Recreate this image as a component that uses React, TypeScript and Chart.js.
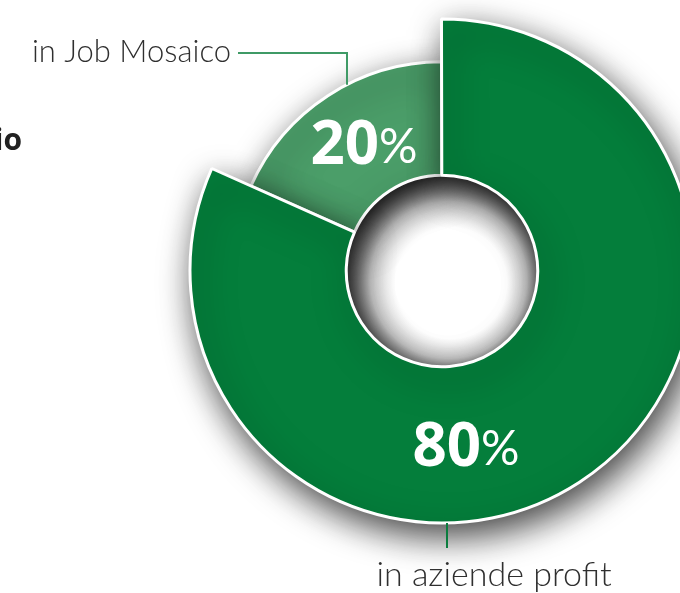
import React, { useEffect, useRef } from "react";
import { Chart, registerables } from "chart.js";

Chart.register(...registerables);

// ---- data ----
const categories = ["in Job Mosaico", "in aziende profit"];
const shares = [18.3, 81.7]; // arc sizes as drawn in the picture
const shareLabels = ["20", "80"];
const colors = ["#4b9e69", "#047e3b"];
const headingFragment = "io";

const CW = 680;
const CH = 593;
const CX = 442;
const CY = 271;
const OUTER = 252;
const SMALL_RATIO = 0.83;

const donutPlugin = {
  id: "donutDecor",
  afterDatasetsUpdate(chart: any) {
    const meta = chart.getDatasetMeta(0);
    const a0 = meta.data[0] as any;
    if (a0) a0.outerRadius = a0.outerRadius * SMALL_RATIO;
  },
  beforeDatasetsDraw(chart: any) {
    const ctx = chart.ctx;
    const meta = chart.getDatasetMeta(0);
    const a1 = meta.data[1] as any;
    // shading inside the hole
    ctx.save();
    const ir = a1.innerRadius;
    const g = ctx.createRadialGradient(a1.x + 12, a1.y + 16, ir * 0.3, a1.x + 4, a1.y + 6, ir + 4);
    g.addColorStop(0, "#ffffff");
    g.addColorStop(0.38, "#ffffff");
    g.addColorStop(0.7, "#d2d2d2");
    g.addColorStop(1, "#5e5e5e");
    ctx.fillStyle = g;
    ctx.beginPath();
    ctx.arc(a1.x, a1.y, ir + 2, 0, Math.PI * 2);
    ctx.fill();
    ctx.restore();

    ctx.save();
    ctx.shadowColor = "rgba(0,0,0,0.75)";
    ctx.shadowBlur = 34;
    ctx.shadowOffsetX = 6;
    ctx.shadowOffsetY = 12;
  },
  afterDatasetsDraw(chart: any) {
    const ctx = chart.ctx;
    ctx.restore();
    const meta = chart.getDatasetMeta(0);
    const a0 = meta.data[0] as any;
    const a1 = meta.data[1] as any;
    const cx = a1.x;
    const cy = a1.y;

    // percent labels
    const numFont = "bold 60px 'Open Sans'";
    const pctFont = "normal 48px Lato";
    const drawPct = (num: string, x: number, yBase: number) => {
      ctx.save();
      ctx.fillStyle = "#ffffff";
      ctx.textBaseline = "alphabetic";
      ctx.textAlign = "left";
      ctx.font = numFont;
      const w1 = ctx.measureText(num).width;
      ctx.font = pctFont;
      const w2 = ctx.measureText("%").width;
      const start = x - (w1 + w2) / 2;
      ctx.font = numFont;
      ctx.fillText(num, start, yBase);
      ctx.font = pctFont;
      ctx.fillText("%", start + w1, yBase - 1);
      ctx.restore();
    };
    drawPct(shareLabels[0], cx - 78, cy - 107);
    drawPct(shareLabels[1], cx + 24, cy + 195);

    // leader line: Job Mosaico
    ctx.save();
    ctx.strokeStyle = "#3f9a66";
    ctx.lineWidth = 2;
    const lx = 347;
    const r0 = a0.outerRadius;
    const ly = cy - Math.sqrt(r0 * r0 - (lx - cx) * (lx - cx));
    ctx.beginPath();
    ctx.moveTo(238, 53);
    ctx.lineTo(lx, 53);
    ctx.lineTo(lx, ly);
    ctx.stroke();

    // leader line: aziende profit
    ctx.strokeStyle = "#0b7d3e";
    const bx = 447;
    const r1 = a1.outerRadius;
    const by = cy + Math.sqrt(r1 * r1 - (bx - cx) * (bx - cx));
    ctx.beginPath();
    ctx.moveTo(bx, by);
    ctx.lineTo(bx, 548);
    ctx.stroke();

    // category labels
    ctx.fillStyle = "#2f2f2f";
    ctx.font = "300 31px Lato";
    ctx.textAlign = "right";
    ctx.textBaseline = "alphabetic";
    ctx.fillText(categories[0], 231, 62);
    ctx.textAlign = "center";
    ctx.font = "300 34px Lato";
    ctx.fillText(categories[1], 494, 586);

    // heading fragment
    ctx.fillStyle = "#222222";
    ctx.font = "bold 30px 'Open Sans'";
    ctx.textAlign = "right";
    ctx.fillText(headingFragment, 22, 150);
    ctx.restore();
  },
};

export default function App() {
  const ref = useRef<HTMLCanvasElement | null>(null);
  useEffect(() => {
    if (!ref.current) return;
    const chart = new Chart(ref.current, {
      type: "doughnut",
      data: {
        labels: categories,
        datasets: [
          {
            data: shares,
            backgroundColor: colors,
            borderColor: "#ffffff",
            borderWidth: 3,
            radius: OUTER,
            clip: false as any,
          } as any,
        ],
      },
      options: {
        responsive: false,
        animation: false,
        events: [],
        cutout: "38%",
        rotation: -66,
        layout: {
          padding: { left: CX * 2 - CW, top: 0, right: 0, bottom: CH - CY * 2 },
        },
        plugins: {
          legend: { display: false },
          tooltip: { enabled: false },
        },
      },
      plugins: [donutPlugin],
    });
    return () => chart.destroy();
  }, []);
  return (
    <div style={{ position: "absolute", left: 0, top: 0, width: CW, height: CH, background: "#fff" }}>
      <canvas ref={ref} width={CW} height={CH} style={{ display: "block" }} />
    </div>
  );
}
